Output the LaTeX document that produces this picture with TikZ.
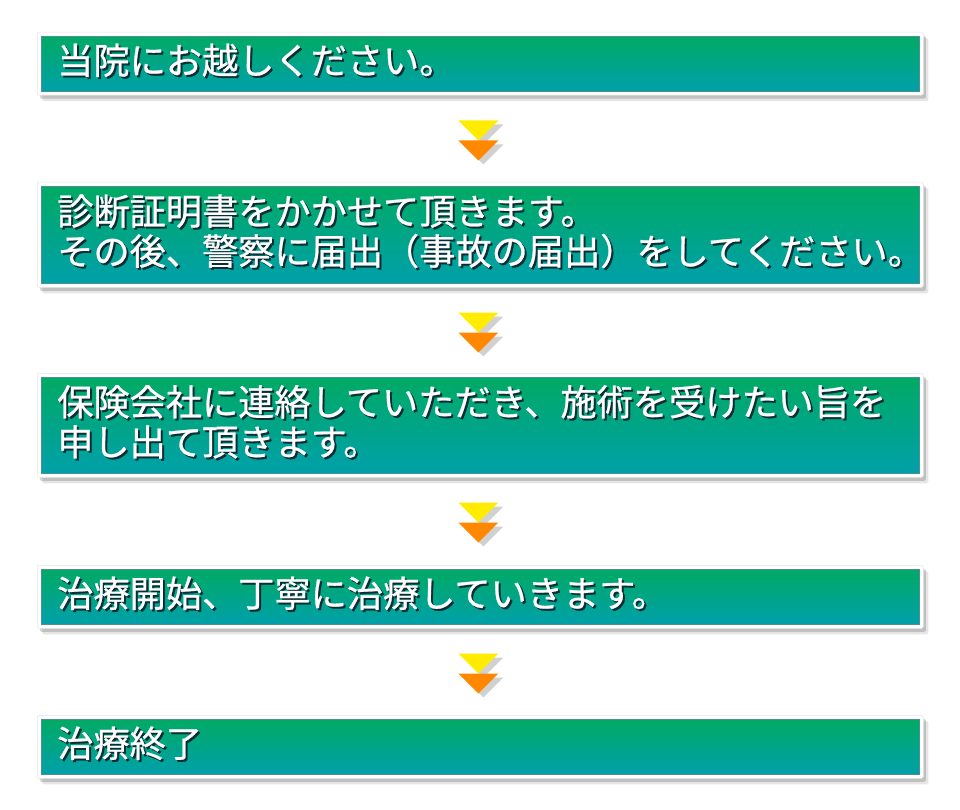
\documentclass[tikz,border=0pt]{standalone}
\usepackage{fontspec}
\newfontfamily\jpfont[FakeBold=0.7]{Noto Sans CJK JP}
\usetikzlibrary{positioning,shadows,calc}

\definecolor{panelgreen}{RGB}{0,170,100}
\definecolor{panelteal}{RGB}{0,160,170}
\definecolor{wordshade}{RGB}{12,45,55}
\definecolor{markyellow}{RGB}{255,236,0}
\definecolor{markorange}{RGB}{255,136,0}

\newcommand\shadedline[1]{\leavevmode\rlap{\kern2pt\raisebox{-2pt}{\textcolor{wordshade}{#1}}}#1}

\tikzset{
  frame/.style={fill=white, draw=black!10, line width=0.5pt, rounded corners=1.5pt,
    general shadow={fill=black, opacity=0.10, shadow xshift=5pt, shadow yshift=-6pt},
    general shadow={fill=black, opacity=0.16, shadow xshift=2.5pt, shadow yshift=-3.5pt}},
  panel/.style={top color=panelgreen, bottom color=panelteal, draw=panelteal!60!black!70, line width=0.4pt},
  steptext/.style={text=white, font=\jpfont\fontsize{36.2pt}{40pt}\selectfont, align=left, inner sep=0pt},
}

\begin{document}
\begin{tikzpicture}[x=1pt, y=-1pt]
  \useasboundingbox (0,0) rectangle (960,810);
  % steps
  \foreach \n/\top/\h/\words in {
    1/32/63/{\shadedline{当院にお越しください。}},
    2/182/105/{\shadedline{診断証明書をかかせて頂きます。}\\\shadedline{その後、警察に届出（事故の届出）をしてください。}},
    3/373/104/{\shadedline{保険会社に連絡していただき、施術を受けたい旨を}\\\shadedline{申し出て頂きます。}},
    4/565/63/{\shadedline{治療開始、丁寧に治療していきます。}},
    5/715/63/{\shadedline{治療終了}}}
  {
    \node[frame, anchor=north west, minimum width=886pt, minimum height=\h pt] (f\n) at (37,\top) {};
    \node[panel, minimum width=878pt, minimum height={\h pt-8pt}] (p\n) at (f\n.center) {};
    \node[steptext, anchor=west] (t\n) at ([xshift=16pt, yshift=2.5pt]p\n.west) {\words};
  }
  % down marks
  \foreach \a in {1,...,4} {
    \coordinate (m\a) at ([xshift=-2pt, yshift=-25pt]f\a.south);
    \fill[black!18] ([xshift=-15pt, yshift=-4pt]m\a) -- ++(40,0) -- ++(-20,20) -- cycle;
    \fill[markyellow] ([xshift=-20pt]m\a) -- ++(40,0) -- ++(-20,20) -- cycle;
    \fill[black!18] ([xshift=-15pt, yshift=-24pt]m\a) -- ++(40,0) -- ++(-20,20) -- cycle;
    \fill[markorange] ([xshift=-20pt, yshift=-20pt]m\a) -- ++(40,0) -- ++(-20,20) -- cycle;
  }
\end{tikzpicture}
\end{document}
